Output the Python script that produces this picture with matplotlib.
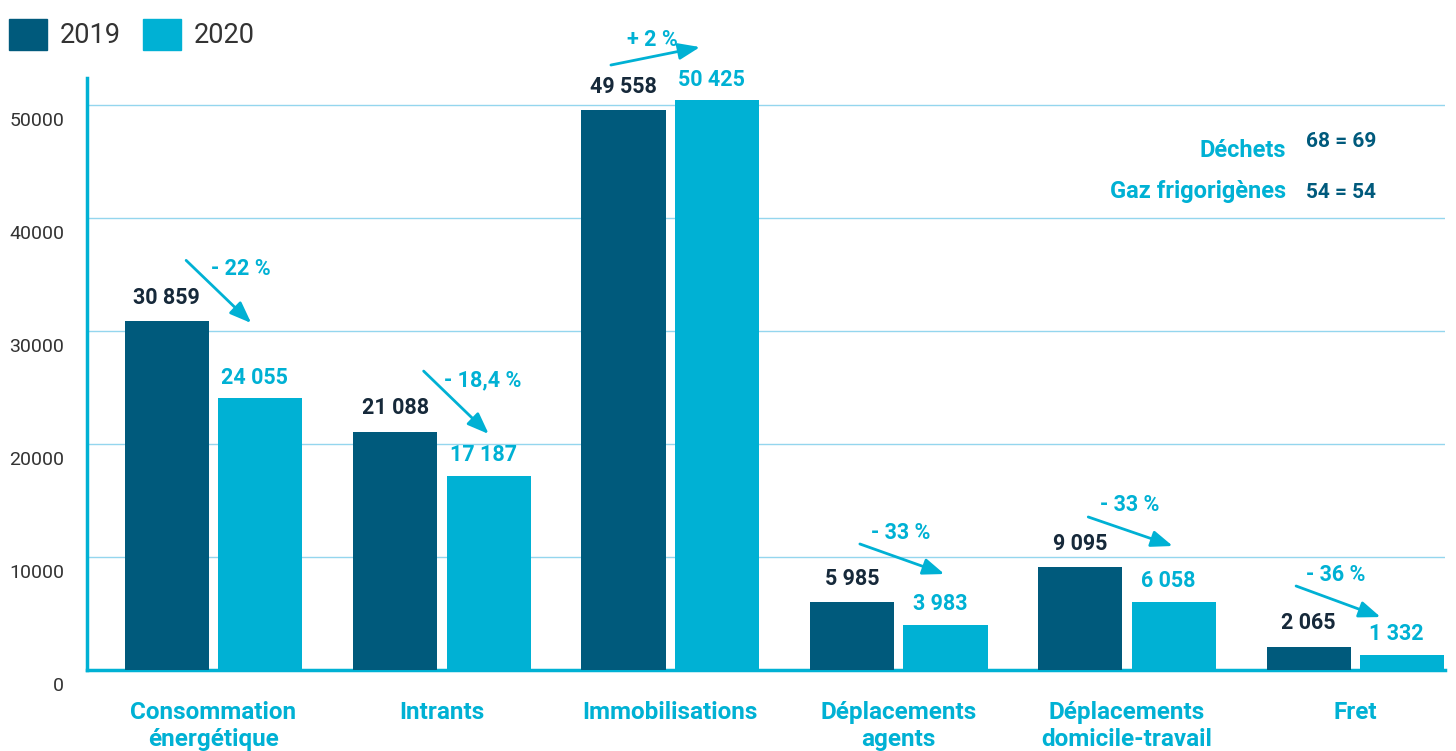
import numpy as np
import matplotlib
matplotlib.use("Agg")
import matplotlib.pyplot as plt
from matplotlib.patches import Patch
from matplotlib.transforms import ScaledTranslation

plt.rcParams['font.family'] = ['Roboto', 'DejaVu Sans']

categories = ["Consommation\nénergétique", "Intrants", "Immobilisations",
              "Déplacements\nagents", "Déplacements\ndomicile-travail", "Fret"]
values_2019 = [30859, 21088, 49558, 5985, 9095, 2065]
values_2020 = [24055, 17187, 50425, 3983, 6058, 1332]
label_2019 = ["30 859", "21 088", "49 558", "5 985", "9 095", "2 065"]
label_2020 = ["24 055", "17 187", "50 425", "3 983", "6 058", "1 332"]
changes = ["- 22 %", "- 18,4 %", "+ 2 %", "- 33 %", "- 33 %", "- 36 %"]
extra_names = ["Déchets", "Gaz frigorigènes"]
extra_values = ["68 = 69", "54 = 54"]

DARK = "#005A7C"
LIGHT = "#00B1D4"
LABEL_DARK = "#16293A"
GRID = "#94D6EE"

# arrow layout, relative to (group centre, 2019 value):
# (dx start, dy start, dx end, dy end, dx text, dy text)
arrow_layout = [
    (-0.12, 5400, 0.165, -150, 0.12, 4600),
    (-0.08, 5370, 0.205, -200, 0.18, 4570),
    (-0.26, 3990, 0.13, 5580, -0.08, 6200),
    (-0.17, 5170, 0.20, 2510, 0.01, 6130),
    (-0.17, 4450, 0.20, 1880, 0.01, 5500),
    (-0.26, 5370, 0.11, 2620, -0.085, 6330),
]

fig = plt.figure(figsize=(14.56, 7.51), dpi=100)
ax = fig.add_axes([87 / 1456, 1 - 670 / 751, (1445 - 87) / 1456, (670 - 78) / 751])

x = np.arange(len(categories))
w = 0.368
off = 0.205
ax.bar(x - off, values_2019, w, color=DARK, zorder=3)
ax.bar(x + off, values_2020, w, color=LIGHT, zorder=3)

ax.set_xlim(-0.554, 5.392)
ax.set_ylim(0, 52400)

ax.set_yticks([0, 10000, 20000, 30000, 40000, 50000])
ax.yaxis.grid(True, color=GRID, linewidth=1, zorder=0)
ax.set_axisbelow(True)
ax.tick_params(axis='y', length=0, labelleft=False)
shift = ScaledTranslation(-23 / 100, -16 / 100, fig.dpi_scale_trans)
for t in [0, 10000, 20000, 30000, 40000, 50000]:
    ax.text(0, t, str(t), transform=ax.get_yaxis_transform() + shift,
            ha='right', va='center', fontsize=14, color="#333333")

ax.set_xticks(x)
ax.set_xticklabels(categories, fontsize=17.5, fontweight='bold', color=LIGHT,
                   linespacing=1.2)
ax.tick_params(axis='x', length=0, pad=22.5)

for s in ['top', 'right']:
    ax.spines[s].set_visible(False)
ax.spines['left'].set_color(LIGHT)
ax.spines['left'].set_linewidth(2.5)
ax.spines['bottom'].set_color(LIGHT)
ax.spines['bottom'].set_linewidth(2.5)
ax.spines['bottom'].set_zorder(2)

for i in range(len(categories)):
    ax.annotate(label_2019[i], (x[i] - off, values_2019[i]), xytext=(0, 9),
                textcoords='offset points', ha='center', va='bottom',
                fontsize=15.5, fontweight='bold', color=LABEL_DARK)
    ax.annotate(label_2020[i], (x[i] + off, values_2020[i]), xytext=(-4, 7),
                textcoords='offset points', ha='center', va='bottom',
                fontsize=15.5, fontweight='bold', color=LIGHT)
    sx, sy, ex, ey, tx, ty = arrow_layout[i]
    ax.annotate("", xy=(x[i] + ex, values_2019[i] + ey),
                xytext=(x[i] + sx, values_2019[i] + sy),
                arrowprops=dict(arrowstyle='-|>,head_length=1.3,head_width=0.5',
                                color=LIGHT, lw=2, shrinkA=0, shrinkB=0),
                annotation_clip=False, zorder=4)
    ax.text(x[i] + tx, values_2019[i] + ty, changes[i], ha='center', va='center',
            fontsize=15.5, fontweight='bold', color=LIGHT, clip_on=False)

ypos = [0.878, 0.808]
val_dy = [0.014, -0.001]
for name, val, yy, dy in zip(extra_names, extra_values, ypos, val_dy):
    ax.text(0.883, yy, name, transform=ax.transAxes, ha='right', va='center',
            fontsize=17, fontweight='bold', color=LIGHT)
    ax.text(0.898, yy + dy, val, transform=ax.transAxes, ha='left', va='center',
            fontsize=15, fontweight='bold', color=DARK)

handles = [Patch(color=DARK, label="2019"), Patch(color=LIGHT, label="2020")]
fig.legend(handles=handles, loc='upper left', bbox_to_anchor=(-0.003, 0.993),
           ncol=2, frameon=False, fontsize=19.5, handlelength=1.4, handleheight=1.4,
           handletextpad=0.45, columnspacing=0.85, borderpad=0, labelcolor="#333333")

fig.savefig("out.png", dpi=100)
